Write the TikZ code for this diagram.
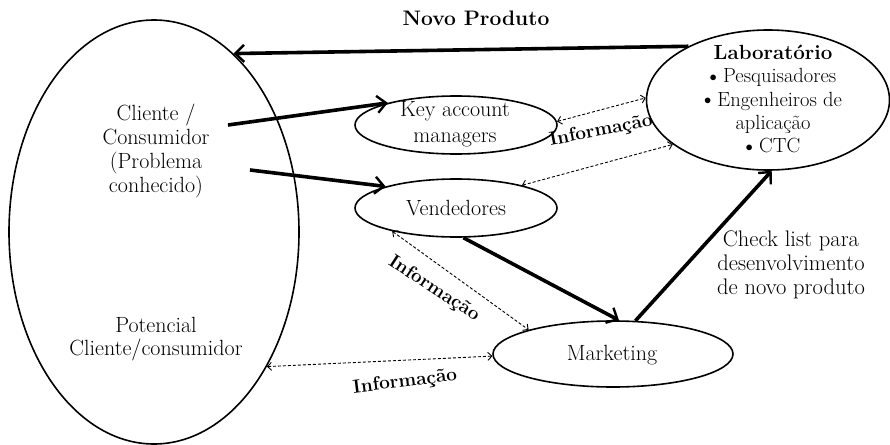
\documentclass[tikz,border=0pt]{standalone}
\usetikzlibrary{shapes.geometric,arrows.meta}
\newcommand{\dotitem}{\raisebox{0.15ex}{\scalebox{0.7}{$\bullet$}}}
\begin{document}
\begin{tikzpicture}[x=1pt,y=-1pt,
  txt/.style={font=\fontsize{22}{23.5}\selectfont,align=center,inner sep=0pt},
  oval/.style={draw,ellipse,line width=1.6pt,inner sep=0pt},
  flow/.style={line width=3.6pt,-{Straight Barb[length=9pt,width=17pt,line width=2.4pt]}},
  info/.style={line width=0.9pt,dash pattern=on 3pt off 2pt,
    {Straight Barb[length=4pt,width=8pt,line width=0.9pt]}-{Straight Barb[length=4pt,width=8pt,line width=0.9pt]}},
  infolbl/.style={font=\fontsize{19}{22}\selectfont\bfseries,inner sep=0pt}]
\useasboundingbox (0,0) rectangle (890,444);

% shapes
\node[oval,minimum width=290pt,minimum height=424pt] (cons) at (154,232) {};
\node[oval,minimum width=202pt,minimum height=58pt] (ka) at (456,125) {};
\node[oval,minimum width=202pt,minimum height=58pt] (ve) at (456,208) {};
\node[oval,minimum width=240pt,minimum height=66pt] (mk) at (613,354) {};
\node[oval,minimum width=243pt,minimum height=140pt] (lab) at (768,100) {};

% texts
\node[txt,font=\fontsize{22}{24}\selectfont] (cli) at (156,151) {Cliente /\\Consumidor\\(Problema\\conhecido)};
\node[txt] (pot) at (156,339) {Potencial\\Cliente/consumidor};
\node[txt,font=\fontsize{22}{26}\selectfont] (katxt) at (455,124) {Key account\\managers};
\node[txt] (vetxt) at (456,208) {Vendedores};
\node[txt] (mktxt) at (612,355) {Marketing};
\node[txt,font=\fontsize{20.5}{23.3}\selectfont] (labtxt) at (773,99)
  {\textbf{Laboratório}\\\dotitem\ Pesquisadores\\\dotitem\ Engenheiros de\\aplicação\\\dotitem\ CTC};
\node[txt,font=\fontsize{21}{24}\selectfont\bfseries] (novo) at (476,18) {Novo Produto};
\node[txt,font=\fontsize{22.5}{24}\selectfont] (check) at (791,265)
  {Check list para\\desenvolvimento\\de novo produto};

% free ends of the two arrows leaving the customer text
\coordinate (c1) at (228,125);
\coordinate (c2) at (250,170);

% main flows
\draw[flow] (lab.146) -- (cons.66);
\draw[flow] (c1) -- (ka.162);
\draw[flow] (c2) -- (ve.163);
\draw[flow] (ve.-76) -- (mk.80);
\draw[flow] (mk.56) -- (lab.-87);

% information exchanges
\draw[info] (ka.2) -- (lab.179);
\draw[info] (ve.19) -- (lab.205);
\draw[info] (ve.200) -- (mk.164);
\draw[info] (cons.-50) -- (mk.181);

\node[infolbl,rotate=11] (i1) at (601,131) {Informação};
\node[infolbl,rotate=-33] (i2) at (434,289) {Informação};
\node[infolbl,rotate=7] (i3) at (405,382) {Informação};
\end{tikzpicture}
\end{document}
